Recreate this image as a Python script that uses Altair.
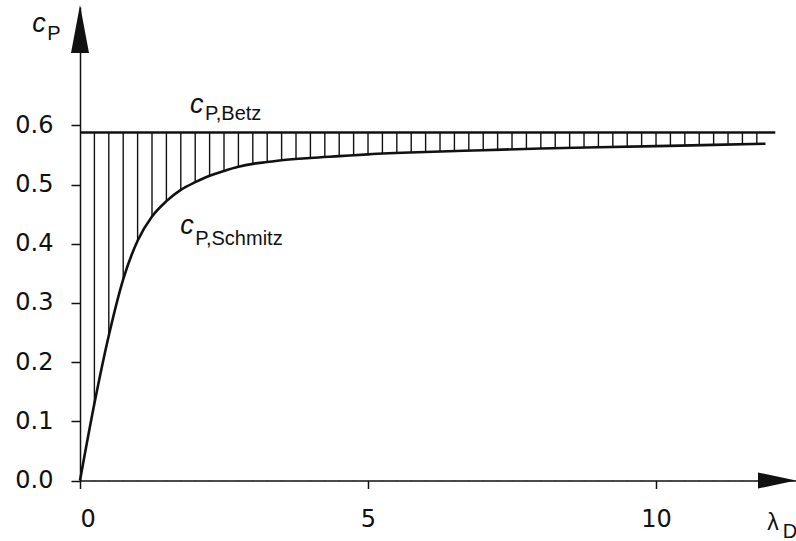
import altair as alt
import pandas as pd

# Tip speed ratio and power coefficient of the Schmitz curve
lam = [0, 0.25, 0.5, 0.75, 1.0, 1.25, 1.5, 1.75, 2.0, 2.25, 2.5, 2.75, 3.0,
       3.25, 3.5, 4.0, 4.5, 5.0, 6.0, 7.0, 8.0, 9.0, 10.0, 11.0, 11.9]
cp_schmitz = [0, 0.130, 0.245, 0.340, 0.405, 0.446, 0.472, 0.491, 0.504,
              0.515, 0.523, 0.530, 0.535, 0.538, 0.541, 0.545, 0.548, 0.551,
              0.555, 0.558, 0.561, 0.563, 0.565, 0.567, 0.569]

# Betz limit line
cp_betz = 0.588
betz_x = [0, 12.07]

# Hatch spacing between the two curves
hatch_step = 0.25
hatch_count = 47

y_ticks = [0.0, 0.1, 0.2, 0.3, 0.4, 0.5, 0.6]
x_ticks = [0, 5, 10]

X_MAX = 12.43
Y_MAX = 0.8
INK = "#111111"
FONT = "Liberation Sans"
TICK_FONT = "DejaVu Sans"

curve = pd.DataFrame({"lam": lam, "cp": cp_schmitz})
betz = pd.DataFrame({"lam": betz_x, "cp": [cp_betz, cp_betz]})
hatch = pd.DataFrame({"lam": [hatch_step * (i + 1) for i in range(hatch_count)],
                      "lo": 0.0, "hi": cp_betz})

xs = alt.Scale(domain=[0, X_MAX], nice=False, zero=False)
ys = alt.Scale(domain=[0, Y_MAX], nice=False)

x_axis = alt.Axis(values=x_ticks, format="d", title=None, grid=False,
                  domainColor=INK, domainWidth=1.5, tickColor=INK,
                  tickWidth=1.5, tickSize=8, labelFont=TICK_FONT,
                  labelFontSize=24, labelColor=INK, labelPadding=19, zindex=1)
y_axis = alt.Axis(values=y_ticks, format=".1f", title=None, grid=False,
                  domainColor=INK, domainWidth=1.5, tickColor=INK,
                  tickWidth=1.5, tickSize=9, labelFont=TICK_FONT,
                  labelFontSize=24, labelColor=INK, labelPadding=18, zindex=1)

hatch_layer = alt.Chart(hatch).mark_rule(color=INK, strokeWidth=1.4).encode(
    x=alt.X("lam:Q", scale=xs, axis=x_axis),
    y=alt.Y("lo:Q", scale=ys, axis=y_axis),
    y2="hi:Q",
)

# White fill below the Schmitz curve hides the lower part of the hatching
mask = alt.Chart(curve).mark_area(color="white", opacity=1,
                                  interpolate="monotone").encode(
    x=alt.X("lam:Q", scale=xs), y=alt.Y("cp:Q", scale=ys)
)

schmitz = alt.Chart(curve).mark_line(color=INK, strokeWidth=2.6,
                                     interpolate="monotone").encode(
    x=alt.X("lam:Q", scale=xs), y=alt.Y("cp:Q", scale=ys)
)

betz_line = alt.Chart(betz).mark_line(color=INK, strokeWidth=2.6).encode(
    x=alt.X("lam:Q", scale=xs), y=alt.Y("cp:Q", scale=ys)
)

# Arrow heads at the ends of both axes
arrow_x = alt.Chart(pd.DataFrame({"lam": [12.1], "cp": [0.0]})).mark_point(
    shape="M -1 -0.42 L 1 0 L -1 0.42 Z", size=1444, filled=True,
    color=INK, opacity=1).encode(
    x=alt.X("lam:Q", scale=xs), y=alt.Y("cp:Q", scale=ys))
arrow_y = alt.Chart(pd.DataFrame({"lam": [0.0], "cp": [0.763]})).mark_point(
    shape="M -0.375 1 L 0 -1 L 0.375 1 Z", size=2304, filled=True,
    color=INK, opacity=1).encode(
    x=alt.X("lam:Q", scale=xs), y=alt.Y("cp:Q", scale=ys))

# Symbol labels: italic c with subscript
c_main = pd.DataFrame({"lam": [-0.83, 1.91, 1.74], "cp": [0.758, 0.621, 0.416],
                       "t": ["c", "c", "c"]})
c_sub = pd.DataFrame({"lam": [-0.57, 2.17, 2.0], "cp": [0.744, 0.609, 0.398],
                      "t": ["P", "P,Betz", "P,Schmitz"]})
lam_main = pd.DataFrame({"lam": [11.93], "cp": [-0.084], "t": ["λ"]})
lam_sub = pd.DataFrame({"lam": [12.2], "cp": [-0.097], "t": ["D"]})

def label(df, size, style="normal"):
    return alt.Chart(df).mark_text(align="left", baseline="alphabetic",
                                   font=FONT, fontSize=size, fontStyle=style,
                                   color=INK).encode(
        x=alt.X("lam:Q", scale=xs), y=alt.Y("cp:Q", scale=ys), text="t:N")

chart = alt.layer(
    hatch_layer, mask, schmitz, betz_line, arrow_x, arrow_y,
    label(c_main, 27, "italic"), label(c_sub, 20),
    label(lam_main, 23), label(lam_sub, 20),
).properties(
    width=716, height=473.5,
    padding={"left": 80, "top": 7, "right": 0, "bottom": 60},
    autosize=alt.AutoSizeParams(type="none"),
).configure(background="white", view=alt.ViewConfig(stroke=None))

chart.save("out.html", embed_options={"renderer": "svg", "actions": False})
